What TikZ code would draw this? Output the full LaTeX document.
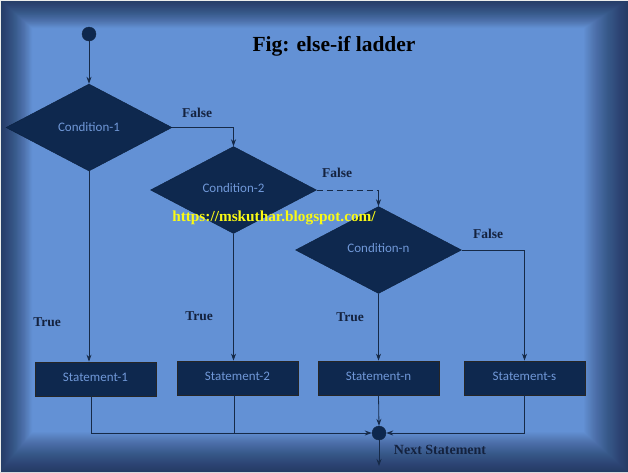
\documentclass[tikz,border=0pt]{standalone}
\usepackage{fontspec}
\setmainfont{Liberation Serif}
\newfontfamily\calib{Carlito}
\usetikzlibrary{shapes.geometric,arrows.meta}
\definecolor{bgblue}{RGB}{99,145,213}
\definecolor{vign}{RGB}{14,26,52}
\definecolor{navy}{RGB}{14,40,78}
\definecolor{linec}{RGB}{22,42,72}
\definecolor{lbl}{RGB}{20,34,62}
\definecolor{ntext}{RGB}{112,152,216}
\definecolor{urly}{RGB}{250,250,20}
\tikzset{
  cond/.style={diamond, fill=navy, draw=navy!80!black, minimum width=166pt, minimum height=87pt, inner sep=0pt, text=ntext, font=\calib\fontsize{13}{14}\selectfont},
  stmt/.style={rectangle, fill=navy, draw=black!85, line width=0.8pt, minimum width=121pt, minimum height=34pt, inner sep=0pt, text=ntext, font=\calib\fontsize{13}{14}\selectfont},
  dot/.style={circle, fill=navy, draw=linec, minimum size=14pt, inner sep=0pt},
  conn/.style={draw=linec, line width=0.8pt},
  arr/.style={conn, -{Stealth[length=7pt,width=5pt]}},
  lab/.style={text=lbl, font=\bfseries\fontsize{13.5}{15}\selectfont, inner sep=0pt},
}
\begin{document}
\begin{tikzpicture}[x=1pt,y=-1pt]
\useasboundingbox (0,0) rectangle (628,472);
\fill[bgblue] (0,0) rectangle (628,472);
\foreach \d in {0,1,...,40}{
  \fill[vign, opacity=0.022, even odd rule] (0,0) rectangle (628,472) (0.8*\d,0.7*\d) rectangle (628-1.1*\d,472-1.0*\d);
}
\draw[white!85!gray, line width=2pt] (0,472) -- (0,0) -- (628,0);
% nodes
\node[dot] (start) at (89,34) {};
\node[cond] (d1) at (89,127.5) {\raisebox{2pt}{Condition-1}};
\node[cond] (d2) at (233.5,190) {\raisebox{5pt}{Condition-2}};
\node[cond] (d3) at (378.5,250) {\raisebox{5pt}{Condition-n}};
\node[stmt] (s1) at (95.5,379) {\raisebox{3pt}{Statement-1}};
\node[stmt] (s2) at (237.5,378) {\raisebox{3pt}{Statement-2}};
\node[stmt] (s3) at (378.5,378) {\raisebox{3pt}{Statement-n}};
\node[stmt] (s4) at (524.5,378) {\raisebox{3pt}{Statement-s}};
\node[dot] (m) at (379,433) {};
\coordinate (end) at (379,466);
\coordinate (c2) at (d3.north |- d2.east);
% connectors
\draw[arr] (start) -- (d1.north);
\draw[arr] (d1.east) -| (d2.north);
\draw[conn, dashed, dash pattern=on 6pt off 4pt] (d2.east) -- (c2);
\draw[arr] (c2) -- (d3.north);
\draw[arr] (d3.east) -| (s4.north);
\draw[arr] (d1.south) -- (d1.south |- s1.north);
\draw[arr] (d2.south) -- (d2.south |- s2.north);
\draw[arr] (d3.south) -- (d3.south |- s3.north);
\draw[arr] ([xshift=-4.5pt]s1.south) |- (m.west);
\draw[conn] ([xshift=-3.5pt]s2.south) -- ([xshift=-3.5pt]s2.south |- m.west);
\draw[arr] (s3.south) -- (m.north);
\draw[arr] (s4.south) |- (m.east);
\draw[arr] (m.south) -- (end);
% labels
\node[lab] (f1) at (197,113) {False};
\node[lab] (f2) at (337,173) {False};
\node[lab] (f3) at (488,234) {False};
\node[lab] (t1) at (47,322) {True};
\node[lab] (t2) at (199,316) {True};
\node[lab] (t3) at (350,317) {True};
\node[lab, font=\bfseries\fontsize{14}{16}\selectfont] (ns) at (440,450) {Next Statement};
\node[text=black, font=\bfseries\fontsize{21.5}{24}\selectfont] (title) at (334,46) {Fig: else-if ladder};
\node[text=urly, font=\bfseries\fontsize{15.3}{17}\selectfont] (url) at (274,218) {https://mskuthar.blogspot.com/};
\end{tikzpicture}
\end{document}
